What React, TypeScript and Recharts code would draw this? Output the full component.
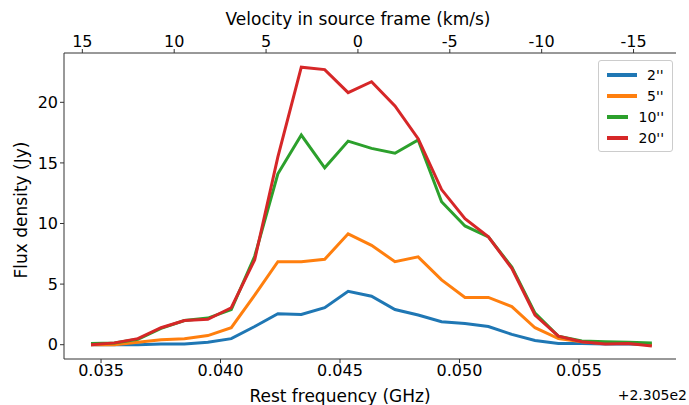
import React from "react";
import { LineChart, Line, XAxis, YAxis, Customized } from "recharts";

const freq = [0.03458,0.03556,0.03654,0.03751,0.03849,0.03947,0.04045,0.04143,0.0424,0.04338,0.04436,0.04534,0.04632,0.0473,0.04827,0.04925,0.05023,0.05121,0.05219,0.05316,0.05414,0.05512,0.0561,0.05708,0.05805];
const s2 = [0,0,0,0.05,0.05,0.2,0.5,1.5,2.55,2.5,3.05,4.4,4.0,2.9,2.45,1.9,1.75,1.5,0.85,0.35,0.1,0.1,0.05,0.05,0];
const s5 = [0,0,0.2,0.4,0.5,0.75,1.4,4.1,6.85,6.85,7.05,9.15,8.2,6.85,7.25,5.35,3.9,3.9,3.15,1.4,0.5,0.25,0.1,0.1,0];
const s10 = [0.1,0.15,0.45,1.35,2.0,2.2,2.9,7.3,14.1,17.3,14.6,16.8,16.2,15.8,16.9,11.8,9.8,8.9,6.4,2.6,0.7,0.3,0.25,0.2,0.15];
const s20 = [0,0.15,0.5,1.4,2.0,2.1,3.05,7.0,15.5,22.9,22.7,20.8,21.7,19.7,17.0,12.8,10.4,8.9,6.3,2.45,0.7,0.25,0.05,0.1,-0.1];
const freqTicks = [0.035,0.04,0.045,0.05,0.055];
const velTicks = [15,10,5,0,-5,-10,-15];
const yTicks = [0,5,10,15,20];
const series = [
  { key: "s2", name: "2''", color: "#1f77b4" },
  { key: "s5", name: "5''", color: "#ff7f0e" },
  { key: "s10", name: "10''", color: "#2ca02c" },
  { key: "s20", name: "20''", color: "#d62728" },
];

const F0 = 0.04575; // offset of v=0 (GHz, +230.5)
const K = 230.5 / 299792.458; // GHz per km/s
const velFreqTicks = velTicks.map((v) => F0 - v * K);

const data = freq.map((f, i) => ({ f, s2: s2[i], s5: s5[i], s10: s10[i], s20: s20[i] }));
const font = "'DejaVu Sans', sans-serif";
const tickStyle = { fontSize: 16, fill: "#000", fontFamily: font };
const labStyle = { fontSize: 17, fontFamily: font };
const dom: [number, number] = [0.03345, 0.05906];

export default function App() {
  return (
    <div style={{ position: "absolute", left: 0, top: 0, width: 689, height: 405, background: "#fff" }}>
      <LineChart width={689} height={405} data={data} margin={{ top: 0, right: 13, bottom: 0, left: 0 }}>
        <XAxis xAxisId="b" dataKey="f" type="number" domain={dom} ticks={freqTicks}
          tickFormatter={(v: number) => v.toFixed(3)} tick={tickStyle} height={46} stroke="#333"
          tickSize={4} allowDataOverflow />
        <XAxis xAxisId="t" dataKey="f" orientation="top" type="number" domain={dom} ticks={velFreqTicks}
          tickFormatter={(f: number) => String(Math.round((F0 - f) / K))}
          tick={tickStyle} height={53} stroke="#333" tickSize={4} allowDataOverflow />
        <YAxis yAxisId="l" type="number" domain={[-1.18, 24.07]} ticks={yTicks} tick={tickStyle} width={64}
          stroke="#333" tickSize={4} allowDataOverflow />
        <YAxis yAxisId="r" orientation="right" type="number" domain={[-1.18, 24.07]} ticks={[]} width={0} stroke="#333" tick={false} />
        {series.map((s) => (
          <Line key={s.key} xAxisId="b" yAxisId="l" dataKey={s.key} name={s.name} stroke={s.color} strokeWidth={3}
            dot={false} isAnimationActive={false} />
        ))}
        <Customized component={() => (
          <g fill="#000">
            <text x={358} y={25} textAnchor="middle" style={labStyle}>Velocity in source frame (km/s)</text>
            <text x={340} y={402} textAnchor="middle" style={labStyle}>Rest frequency (GHz)</text>
            <text x={0} y={0} transform="translate(27,210) rotate(-90)" textAnchor="middle" style={labStyle}>Flux density (Jy)</text>
            <text x={687} y={400} textAnchor="end" style={{ fontSize: 14, fontFamily: font }}>+2.305e2</text>
          </g>
        )} />
      </LineChart>
      <div style={{ position: "absolute", left: 598, top: 60, width: 75, boxSizing: "border-box", border: "1px solid #ccc", borderRadius: 3, background: "#fff", padding: "3px 8px", fontFamily: font, fontSize: 14 }}>
        {series.map((s) => (
          <div key={s.key} style={{ display: "flex", alignItems: "center", height: 21 }}>
            <div style={{ width: 30, height: 4, background: s.color, marginRight: 10 }} />
            <span>{s.name}</span>
          </div>
        ))}
      </div>
    </div>
  );
}
